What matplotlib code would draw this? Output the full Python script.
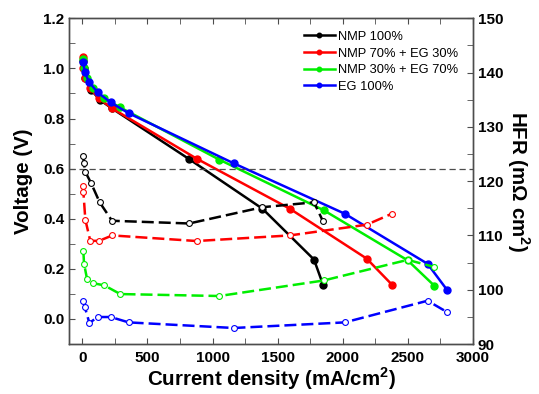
import matplotlib
matplotlib.use("Agg")
import matplotlib.pyplot as plt
from matplotlib.ticker import MultipleLocator

plt.rcParams['font.family'] = ['Liberation Sans', 'DejaVu Sans']
plt.rcParams['mathtext.fontset'] = 'custom'
plt.rcParams['mathtext.rm'] = 'Liberation Sans'
plt.rcParams['mathtext.bf'] = 'Liberation Sans:bold'

labels = ['NMP 100%', 'NMP 70% + EG 30%', 'NMP 30% + EG 70%', 'EG 100%']
colors = ['black', 'red', '#00ee00', 'blue']

# polarization data (current density mA/cm2, voltage V)
i_nmp = [8, 11, 23, 67, 133, 228, 820, 1383, 1779, 1848]
v_nmp = [1.03, 1.0, 0.96, 0.915, 0.875, 0.84, 0.638, 0.44, 0.237, 0.137]
i_n7e3 = [3, 8, 23, 61, 128, 230, 877, 1593, 2183, 2377]
v_n7e3 = [1.044, 1.0, 0.96, 0.92, 0.88, 0.84, 0.64, 0.44, 0.241, 0.137]
i_n3e7 = [8, 13, 36, 84, 169, 291, 1051, 1853, 2498, 2702]
v_n3e7 = [1.037, 1.0, 0.96, 0.92, 0.88, 0.844, 0.636, 0.434, 0.234, 0.133]
i_eg = [8, 18, 54, 118, 218, 356, 1163, 2015, 2651, 2799]
v_eg = [1.024, 0.984, 0.944, 0.904, 0.864, 0.821, 0.621, 0.42, 0.22, 0.117]

# HFR data (mOhm cm2)
hfr_nmp = [124.7, 123.4, 121.7, 119.65, 116.1, 112.7, 112.2, 115.2, 116.1, 112.6]
hfr_n7e3 = [119.15, 118.05, 112.9, 109.0, 109.0, 110.0, 108.97, 110.0, 111.97, 114.0]
hfr_n3e7 = [107.05, 104.8, 102.0, 101.2, 100.8, 99.2, 98.84, 101.7, 105.5, 104.2]
hfr_eg = [97.97, 96.9, 93.87, 94.97, 94.97, 93.98, 92.95, 93.98, 97.97, 95.9]

currents = [i_nmp, i_n7e3, i_n3e7, i_eg]
voltages = [v_nmp, v_n7e3, v_n3e7, v_eg]
hfrs = [hfr_nmp, hfr_n7e3, hfr_n3e7, hfr_eg]

fig = plt.figure(figsize=(5.39, 3.94), dpi=100)
ax = fig.add_axes([0.1286, 0.1269, 0.749, 0.8267])
ax2 = ax.twinx()

for cur, v, c, lab in zip(currents, voltages, colors, labels):
    ax.plot(cur, v, '-', color=c, lw=1.8, marker='o', ms=5, mfc=c, mec=c, label=lab)

ax.axhline(0.6, color='0.3', lw=0.9, ls=(0, (5, 3)))

for cur, h, c in zip(currents, hfrs, colors):
    ax2.plot(cur, h, color=c, lw=1.8, ls=(0, (4.8, 2.0)), marker='o', ms=4.2,
             mfc='white', mec=c, mew=0.8)

ax.set_xlim(-100, 3000)
ax.set_ylim(-0.1, 1.2)
ax2.set_ylim(90, 150)

ax.xaxis.set_major_locator(MultipleLocator(500))
ax.xaxis.set_minor_locator(MultipleLocator(250))
ax.yaxis.set_major_locator(MultipleLocator(0.2))
ax.yaxis.set_minor_locator(MultipleLocator(0.1))
ax2.yaxis.set_major_locator(MultipleLocator(10))
ax2.yaxis.set_minor_locator(MultipleLocator(5))

spine_col = '0.3'
for a in (ax, ax2):
    for s in a.spines.values():
        s.set_color(spine_col)
        s.set_linewidth(1.0)
ax.tick_params(axis='both', which='both', direction='in', color=spine_col, labelsize=11, top=True)
ax.tick_params(axis='y', which='both', right=False)
ax.tick_params(axis='x', pad=5)
ax.tick_params(which='both', length=4.5)
ax2.tick_params(axis='y', which='both', direction='in', color=spine_col, labelsize=11, length=4.5)

ax.set_yticklabels(['%.1f' % t for t in ax.get_yticks()])
for lab in ax.get_xticklabels() + ax.get_yticklabels() + ax2.get_yticklabels():
    lab.set_fontweight('bold')

ax.set_xlabel('Current density (mA/cm$^\\mathbf{2}$)', fontsize=14.8, fontweight='bold', labelpad=0)
ax.set_ylabel('Voltage (V)', fontsize=14.8, fontweight='bold', labelpad=7)
ax2.set_ylabel('HFR (m\u03a9 cm$^\\mathbf{2}$)', fontsize=14.8, fontweight='bold',
               rotation=270, labelpad=20)

leg = ax.legend(loc='upper right', bbox_to_anchor=(0.993, 0.997), frameon=False, fontsize=9.3,
                handlelength=2.35, handletextpad=0.3, labelspacing=0.36, markerscale=0.65)

ax2.set_zorder(ax.get_zorder() + 1)
ax2.patch.set_visible(False)
# keep legend visible above the HFR axes
leg.remove()
ax2.add_artist(leg)

fig.savefig('out.png', dpi=100)
